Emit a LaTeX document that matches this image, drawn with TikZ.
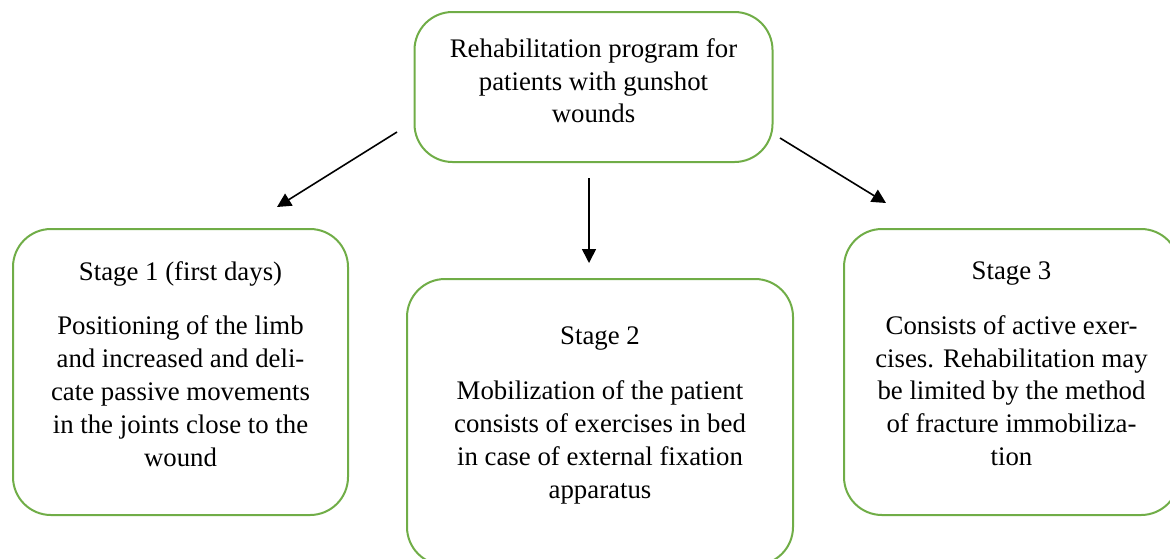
\documentclass[tikz,border=0pt]{standalone}
\usepackage{fontspec}
\setmainfont{Liberation Serif}
\usetikzlibrary{arrows.meta}

\definecolor{boxgreen}{RGB}{112,173,71}

\tikzset{
	stagebox/.style={draw=boxgreen, line width=1pt, rounded corners=19pt, align=center,
		font=\fontsize{13.4}{16.4}\selectfont, inner sep=0pt},
	flowarrow/.style={-{Triangle[length=7pt,width=7pt]}, line width=0.8pt}
}

\begin{document}
\begin{tikzpicture}[x=0.5pt, y=-0.5pt]
	
	\useasboundingbox (0,0) rectangle (1170,558);
	
	\node[stagebox, minimum width=179pt, minimum height=75pt] (program) at (593.5,87)
		{Rehabilitation program for\\patients with gunshot\\wounds\\[-10pt]};
	
	\node[stagebox, minimum width=167.5pt, minimum height=143pt] (stageone) at (180.5,372)
		{Stage 1 (first days)\\[11pt]
		Positioning of the limb\\and increased and deli-\\cate passive movements\\in the joints close to the\\wound\\[-8pt]};
	
	\node[stagebox, minimum width=193pt, minimum height=143pt] (stagetwo) at (600,422)
		{Stage 2\\[11pt]
		Mobilization of the patient\\consists of exercises in bed\\in case of external fixation\\apparatus\\[-7pt]};
	
	\node[stagebox, minimum width=167.5pt, minimum height=143pt] (stagethree) at (1011.5,372)
		{Stage 3\\[11pt]
		Consists of active exer-\\cises. Rehabilitation may\\be limited by the method\\of fracture immobiliza-\\tion\\[-8pt]};
	
	\coordinate (a1) at (397,132);
	\coordinate (a1end) at (277,207);
	\coordinate (a2) at (589,178);
	\coordinate (a2end) at (589,263);
	\coordinate (a3) at (780,138);
	\coordinate (a3end) at (886,203);
	
	\draw[flowarrow] (a1) -- (a1end);
	\draw[flowarrow] (a2) -- (a2end);
	\draw[flowarrow] (a3) -- (a3end);
\end{tikzpicture}
\end{document}
